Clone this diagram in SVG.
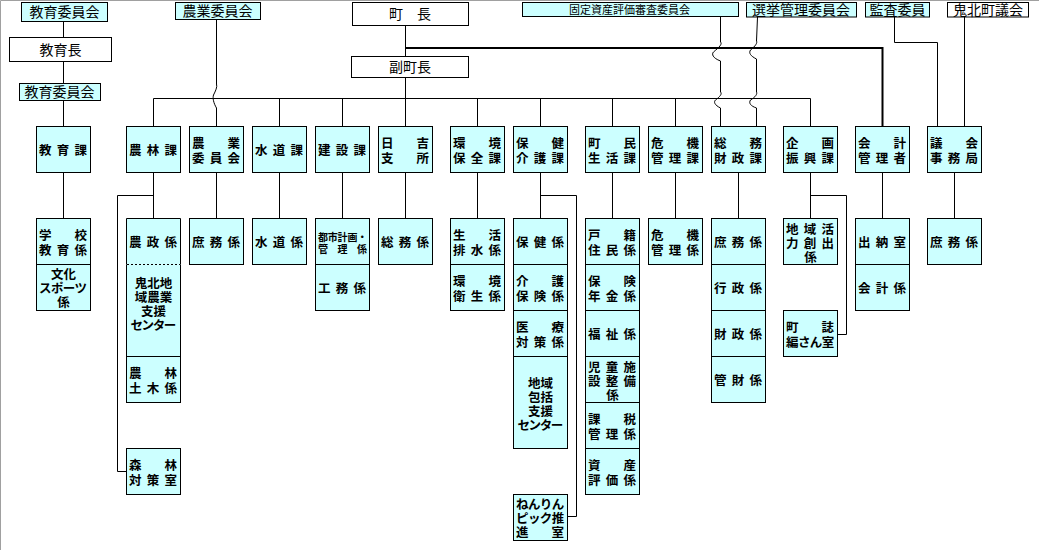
<svg xmlns="http://www.w3.org/2000/svg" width="1039" height="550" viewBox="0 0 1039 550">
<style>
.c{fill:#ccffff;stroke:#000;stroke-width:1}
.w{fill:#fff;stroke:#000;stroke-width:1}
.f{fill:#ccffff;stroke:none}
.e{fill:none;stroke:#000;stroke-width:1}
.dash{fill:none;stroke:#000;stroke-width:1;stroke-dasharray:2 2}
.t{font-family:"Liberation Sans","Noto Sans CJK JP",sans-serif;font-size:12.5px;font-weight:bold;fill:#000}
.s{font-family:"Liberation Sans","Noto Sans CJK JP",sans-serif;font-size:10px;font-weight:bold;fill:#000}
.h{font-family:"Noto Sans CJK JP","Noto Sans CJK SC",sans-serif;font-size:14px;fill:#000;text-anchor:middle}
.l4{letter-spacing:-0.6px}
.k4{letter-spacing:-1.4px}
.s5{letter-spacing:-0.2px}
.ln{fill:none;stroke:#000;stroke-width:1}
.thick{fill:none;stroke:#000;stroke-width:2}
</style>
<rect x="0" y="0" width="1039" height="550" fill="#fff"/>
<path d="M0.5,550 V0.5 H1039" fill="none" stroke="#a0a0a0" stroke-width="1"/>

<g id="connectors">
<path class="ln" d="M63.5,21 V37 M63.5,61 V83 M63.5,100 V126"/>
<path class="ln" d="M216.5,19 V84 c1,3 -1,7 -3,11 c-1,3 0,8 3,13 V126"/>
<path class="ln" d="M405.5,25 V56 M405.5,77 V98.5"/>
<path class="thick" d="M405.5,48 H882.5 V126"/>
<path class="ln" d="M153.5,98.5 H810.5"/>
<path class="ln" d="M153.5,98.5 V126 M279.5,98.5 V126 M342.5,98.5 V126 M405.5,98.5 V126 M477.5,98.5 V126 M540.5,98.5 V126 M612.5,98.5 V126 M675.5,98.5 V126 M810.5,98.5 V126"/>
<path class="ln" d="M720.5,17 V42 c2,2 -1,5 -7,10 c-2,2 -1,6 7,9 V92 c2,2 -1,5 -5,8 c-2,2 -1,5 5,8 V126"/>
<path class="ln" d="M757.5,17 L756.5,41 c1,2 -1,5 -6,9 c-2,3 0,6 6,9 V92 c1,2 -1,5 -6,8 c-2,3 0,6 6,8 V126"/>
<path class="ln" d="M894.5,17 V42.5 H937.5 V126 M964.5,17 V126"/>
<path class="ln" d="M63.5,172 V218 M153.5,172 V218 M216.5,172 V218 M279.5,172 V218 M342.5,172 V218 M405.5,172 V218 M477.5,172 V218 M540.5,172 V218 M612.5,172 V218 M675.5,172 V218 M738.5,172 V218 M810.5,172 V218 M882.5,172 V218 M954.5,172 V218"/>
<path class="ln" d="M153.5,195.5 H117.5 V471.5 H126"/>
<path class="ln" d="M540.5,195.5 H576.5 V516.5 H567"/>
<path class="ln" d="M810.5,195.5 H846.5 V334.5 H837"/>
</g>

<!-- top level -->
<g id="n-kyoikuiinkai"><rect class="c" x="21.5" y="2.5" width="86" height="19"/><text class="h" x="64.5" y="17">教育委員会</text></g>
<g id="n-kyoikucho"><rect class="w" x="9.5" y="37.5" width="102" height="24"/><text class="h" x="60.5" y="54.5">教育長</text></g>
<g id="n-kyoikuiinkai2"><rect class="c" x="19.5" y="83.5" width="81" height="17"/><text class="h" x="59.5" y="97">教育委員会</text></g>
<g id="n-nogyoiinkai"><rect class="c" x="175.5" y="2.5" width="85" height="17"/><text class="h" x="217.5" y="16">農業委員会</text></g>
<g id="n-chocho"><rect class="w" x="352.5" y="2.5" width="116" height="23"/><text class="h" x="410" y="18.5">町　長</text></g>
<g id="n-fukuchocho"><rect class="w" x="351.5" y="56.5" width="117" height="21"/><text class="h" x="410" y="71.5">副町長</text></g>
<g id="n-kotei"><rect class="c" x="522.5" y="2.5" width="216" height="14"/><text class="h" style="font-size:11px;text-anchor:start" x="569" y="14" textLength="121" lengthAdjust="spacing">固定資産評価審査委員会</text></g>
<g id="n-senkyo"><rect class="c" x="746.5" y="2.5" width="110" height="14.5"/><text class="h" x="801" y="15">選挙管理委員会</text></g>
<g id="n-kansa"><rect class="c" x="865.5" y="2.5" width="64" height="14.5"/><text class="h" x="897.5" y="15">監査委員</text></g>
<g id="n-gikai"><rect class="w" x="947.5" y="2.5" width="81" height="14.5"/><text class="h" x="988" y="15">鬼北町議会</text></g>

<!-- departments -->
<g id="n-kyoikuka"><rect class="c" x="36.5" y="126.5" width="54" height="46"/><text class="t" x="39 56.75 74.5" y="154.5">教育課</text></g>
<g id="n-norinka"><rect class="c" x="126.5" y="126.5" width="54" height="46"/><text class="t" x="129 146.75 164.5" y="154.5">農林課</text></g>
<g id="n-nogyoiinkai-ka"><rect class="c" x="189.5" y="126.5" width="54" height="46"/><text class="t"><tspan x="192 227.5" y="147.5">農業</tspan><tspan x="192 209.75 227.5" y="162.5">委員会</tspan></text></g>
<g id="n-suidoka"><rect class="c" x="252.5" y="126.5" width="54" height="46"/><text class="t" x="255 272.75 290.5" y="154.5">水道課</text></g>
<g id="n-kensetsuka"><rect class="c" x="315.5" y="126.5" width="54" height="46"/><text class="t" x="318 335.75 353.5" y="154.5">建設課</text></g>
<g id="n-hiyoshi"><rect class="c" x="378.5" y="126.5" width="54" height="46"/><text class="t"><tspan x="381 416.5" y="147.5">日吉</tspan><tspan x="381 416.5" y="162.5">支所</tspan></text></g>
<g id="n-kankyo"><rect class="c" x="450.5" y="126.5" width="54" height="46"/><text class="t"><tspan x="453 488.5" y="147.5">環境</tspan><tspan x="453 470.75 488.5" y="162.5">保全課</tspan></text></g>
<g id="n-hoken"><rect class="c" x="513.5" y="126.5" width="54" height="46"/><text class="t"><tspan x="516 551.5" y="147.5">保健</tspan><tspan x="516 533.75 551.5" y="162.5">介護課</tspan></text></g>
<g id="n-chomin"><rect class="c" x="585.5" y="126.5" width="54" height="46"/><text class="t"><tspan x="588 623.5" y="147.5">町民</tspan><tspan x="588 605.75 623.5" y="162.5">生活課</tspan></text></g>
<g id="n-kiki"><rect class="c" x="648.5" y="126.5" width="54" height="46"/><text class="t"><tspan x="651 686.5" y="147.5">危機</tspan><tspan x="651 668.75 686.5" y="162.5">管理課</tspan></text></g>
<g id="n-somu"><rect class="c" x="711.5" y="126.5" width="54" height="46"/><text class="t"><tspan x="714 749.5" y="147.5">総務</tspan><tspan x="714 731.75 749.5" y="162.5">財政課</tspan></text></g>
<g id="n-kikaku"><rect class="c" x="783.5" y="126.5" width="54" height="46"/><text class="t"><tspan x="786 821.5" y="147.5">企画</tspan><tspan x="786 803.75 821.5" y="162.5">振興課</tspan></text></g>
<g id="n-kaikei"><rect class="c" x="855.5" y="126.5" width="54" height="46"/><text class="t"><tspan x="858 893.5" y="147.5">会計</tspan><tspan x="858 875.75 893.5" y="162.5">管理者</tspan></text></g>
<g id="n-gikaijimu"><rect class="c" x="927.5" y="126.5" width="54" height="46"/><text class="t"><tspan x="930 965.5" y="147.5">議会</tspan><tspan x="930 947.75 965.5" y="162.5">事務局</tspan></text></g>

<!-- 教育課 -->
<g id="n-gakko"><rect class="c" x="36.5" y="218.5" width="54" height="46"/><text class="t"><tspan x="39 74.5" y="239.5">学校</tspan><tspan x="39 56.75 74.5" y="254.5">教育係</tspan></text></g>
<g id="n-bunka"><rect class="c" x="36.5" y="264.5" width="54" height="46"/><text class="t"><tspan x="51" y="279">文化</tspan><tspan class="l4" x="39" y="293">スポーツ</tspan><tspan x="57.25" y="307">係</tspan></text></g>

<!-- 農林課 -->
<g id="n-nosei"><rect class="f" x="126.5" y="218.5" width="54" height="46"/><path class="e" d="M126.5,264.5 V218.5 H180.5 V264.5"/><text class="t" x="129 146.75 164.5" y="246.5">農政係</text></g>
<g id="n-center1"><rect class="f" x="126.5" y="264.5" width="54" height="92"/><path class="e" d="M126.5,264.5 V356.5 H180.5 V264.5"/><path class="dash" d="M127,264.5 H180"/><text class="t"><tspan x="134.75" y="288">鬼北地</tspan><tspan x="134.75" y="302">域農業</tspan><tspan x="141" y="316">支援</tspan><tspan class="k4" x="130.5" y="330">センター</tspan></text></g>
<g id="n-norindoboku"><rect class="c" x="126.5" y="356.5" width="54" height="46"/><text class="t"><tspan x="129 164.5" y="377.5">農林</tspan><tspan x="129 146.75 164.5" y="392.5">土木係</tspan></text></g>
<g id="n-shinrin"><rect class="c" x="126.5" y="448.5" width="54" height="46"/><text class="t"><tspan x="129 164.5" y="469.5">森林</tspan><tspan x="129 146.75 164.5" y="484.5">対策室</tspan></text></g>

<!-- 農業委員会 -->
<g id="n-nogyo-shomu"><rect class="c" x="189.5" y="218.5" width="54" height="46"/><text class="t" x="192 209.75 227.5" y="246.5">庶務係</text></g>
<!-- 水道課 -->
<g id="n-suido"><rect class="c" x="252.5" y="218.5" width="54" height="46"/><text class="t" x="255 272.75 290.5" y="246.5">水道係</text></g>
<!-- 建設課 -->
<g id="n-toshi"><rect class="c" x="315.5" y="218.5" width="54" height="46"/><text class="s"><tspan class="s5" x="318" y="240.5">都市計画・</tspan><tspan x="318 337.5 357" y="252.5">管理係</tspan></text></g>
<g id="n-komu"><rect class="c" x="315.5" y="264.5" width="54" height="46"/><text class="t" x="318 335.75 353.5" y="292.5">工務係</text></g>
<!-- 日吉支所 -->
<g id="n-hiyoshi-somu"><rect class="c" x="378.5" y="218.5" width="54" height="46"/><text class="t" x="381 398.75 416.5" y="246.5">総務係</text></g>
<!-- 環境保全課 -->
<g id="n-seikatsu"><rect class="c" x="450.5" y="218.5" width="54" height="46"/><text class="t"><tspan x="453 488.5" y="239.5">生活</tspan><tspan x="453 470.75 488.5" y="254.5">排水係</tspan></text></g>
<g id="n-eisei"><rect class="c" x="450.5" y="264.5" width="54" height="46"/><text class="t"><tspan x="453 488.5" y="285.5">環境</tspan><tspan x="453 470.75 488.5" y="300.5">衛生係</tspan></text></g>
<!-- 保健介護課 -->
<g id="n-hokenkakari"><rect class="c" x="513.5" y="218.5" width="54" height="46"/><text class="t" x="516 533.75 551.5" y="246.5">保健係</text></g>
<g id="n-kaigo"><rect class="c" x="513.5" y="264.5" width="54" height="46"/><text class="t"><tspan x="516 551.5" y="285.5">介護</tspan><tspan x="516 533.75 551.5" y="300.5">保険係</tspan></text></g>
<g id="n-iryo"><rect class="c" x="513.5" y="310.5" width="54" height="46"/><text class="t"><tspan x="516 551.5" y="331.5">医療</tspan><tspan x="516 533.75 551.5" y="346.5">対策係</tspan></text></g>
<g id="n-hokatsu"><rect class="c" x="513.5" y="356.5" width="54" height="92"/><text class="t"><tspan x="528" y="387.5">地域</tspan><tspan x="528" y="401.5">包括</tspan><tspan x="528" y="415.5">支援</tspan><tspan class="k4" x="517.5" y="429.5">センター</tspan></text></g>
<g id="n-nenrin"><rect class="c" x="513.5" y="494.5" width="54" height="46"/><text class="t"><tspan class="l4" x="516" y="508.5">ねんりん</tspan><tspan class="l4" x="516" y="522.5">ピック推</tspan><tspan x="516 551.5" y="536.5">進室</tspan></text></g>
<!-- 町民生活課 -->
<g id="n-koseki"><rect class="c" x="585.5" y="218.5" width="54" height="46"/><text class="t"><tspan x="588 623.5" y="239.5">戸籍</tspan><tspan x="588 605.75 623.5" y="254.5">住民係</tspan></text></g>
<g id="n-hokennenkin"><rect class="c" x="585.5" y="264.5" width="54" height="46"/><text class="t"><tspan x="588 623.5" y="285.5">保険</tspan><tspan x="588 605.75 623.5" y="300.5">年金係</tspan></text></g>
<g id="n-fukushi"><rect class="c" x="585.5" y="310.5" width="54" height="46"/><text class="t" x="588 605.75 623.5" y="338.5">福祉係</text></g>
<g id="n-jido"><rect class="c" x="585.5" y="356.5" width="54" height="46"/><text class="t"><tspan x="588 605.75 623.5" y="371.5">児童施</tspan><tspan x="588 605.75 623.5" y="385.5">設整備</tspan><tspan x="606.25" y="399.5">係</tspan></text></g>
<g id="n-kazei"><rect class="c" x="585.5" y="402.5" width="54" height="46"/><text class="t"><tspan x="588 623.5" y="423.5">課税</tspan><tspan x="588 605.75 623.5" y="438.5">管理係</tspan></text></g>
<g id="n-shisan"><rect class="c" x="585.5" y="448.5" width="54" height="46"/><text class="t"><tspan x="588 623.5" y="469.5">資産</tspan><tspan x="588 605.75 623.5" y="484.5">評価係</tspan></text></g>
<!-- 危機管理課 -->
<g id="n-kikikakari"><rect class="c" x="648.5" y="218.5" width="54" height="46"/><text class="t"><tspan x="651 686.5" y="239.5">危機</tspan><tspan x="651 668.75 686.5" y="254.5">管理係</tspan></text></g>
<!-- 総務財政課 -->
<g id="n-somu-shomu"><rect class="c" x="711.5" y="218.5" width="54" height="46"/><text class="t" x="714 731.75 749.5" y="246.5">庶務係</text></g>
<g id="n-gyosei"><rect class="c" x="711.5" y="264.5" width="54" height="46"/><text class="t" x="714 731.75 749.5" y="292.5">行政係</text></g>
<g id="n-zaisei"><rect class="c" x="711.5" y="310.5" width="54" height="46"/><text class="t" x="714 731.75 749.5" y="338.5">財政係</text></g>
<g id="n-kanzai"><rect class="c" x="711.5" y="356.5" width="54" height="46"/><text class="t" x="714 731.75 749.5" y="384.5">管財係</text></g>
<!-- 企画振興課 -->
<g id="n-chiiki"><rect class="c" x="783.5" y="218.5" width="54" height="46"/><text class="t"><tspan x="786 803.75 821.5" y="233.5">地域活</tspan><tspan x="786 803.75 821.5" y="247.5">力創出</tspan><tspan x="804.25" y="261.5">係</tspan></text></g>
<g id="n-choshi"><rect class="c" x="783.5" y="310.5" width="54" height="46"/><text class="t"><tspan x="786 821.5" y="331.5">町誌</tspan><tspan class="l4" x="786" y="346.5">編さん室</tspan></text></g>
<!-- 会計管理者 -->
<g id="n-suito"><rect class="c" x="855.5" y="218.5" width="54" height="46"/><text class="t" x="858 875.75 893.5" y="246.5">出納室</text></g>
<g id="n-kaikeikakari"><rect class="c" x="855.5" y="264.5" width="54" height="46"/><text class="t" x="858 875.75 893.5" y="292.5">会計係</text></g>
<!-- 議会事務局 -->
<g id="n-gikai-shomu"><rect class="c" x="927.5" y="218.5" width="54" height="46"/><text class="t" x="930 947.75 965.5" y="246.5">庶務係</text></g>
</svg>
